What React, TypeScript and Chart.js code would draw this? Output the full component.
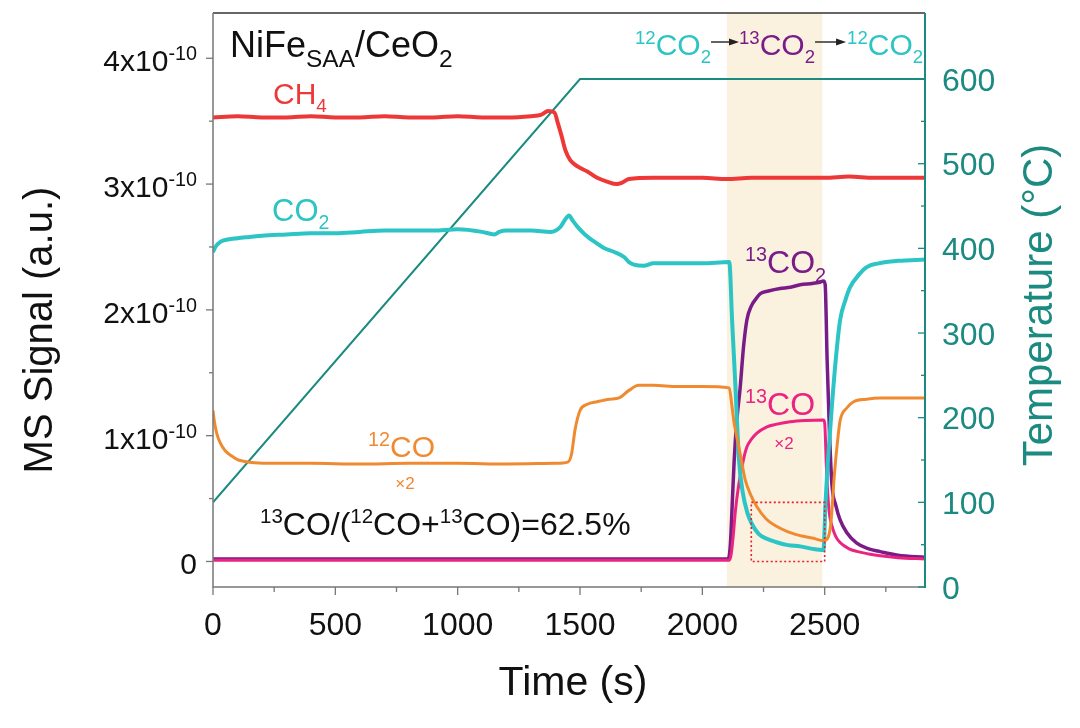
import React, { useEffect, useRef } from "react";
import { Chart, registerables } from "chart.js";

Chart.register(...registerables);

const FONT = '"Liberation Sans", Arial, Helvetica, sans-serif';

// ---- data (signal in units of 1e-10 a.u., time in s) ----
const ch4Time = [0, 100, 200, 300, 400, 500, 600, 700, 800, 900, 1000, 1100, 1200, 1300, 1340, 1370, 1395, 1410, 1425, 1440, 1460, 1490, 1530, 1570, 1610, 1650, 1670, 1700, 1800, 1900, 2000, 2100, 2200, 2300, 2400, 2500, 2600, 2700, 2800, 2910];
const ch4Signal = [3.53, 3.54, 3.53, 3.53, 3.54, 3.53, 3.53, 3.54, 3.53, 3.53, 3.54, 3.53, 3.53, 3.54, 3.55, 3.58, 3.57, 3.48, 3.38, 3.27, 3.19, 3.14, 3.1, 3.05, 3.02, 3.0, 3.01, 3.04, 3.05, 3.05, 3.05, 3.04, 3.05, 3.05, 3.05, 3.05, 3.06, 3.05, 3.05, 3.05];

const co2Time = [0, 10, 30, 60, 100, 150, 200, 300, 400, 500, 600, 700, 800, 900, 1000, 1100, 1150, 1170, 1200, 1300, 1380, 1420, 1440, 1455, 1470, 1490, 1520, 1560, 1600, 1640, 1680, 1700, 1720, 1760, 1800, 1900, 2000, 2110, 2122, 2135, 2150, 2165, 2185, 2202, 2230, 2264, 2300, 2350, 2400, 2450, 2495, 2503, 2515, 2530, 2545, 2563, 2585, 2604, 2640, 2672, 2720, 2800, 2910];
const co2Signal = [2.46, 2.5, 2.54, 2.56, 2.57, 2.58, 2.59, 2.6, 2.61, 2.61, 2.62, 2.63, 2.63, 2.63, 2.64, 2.62, 2.6, 2.62, 2.63, 2.63, 2.62, 2.66, 2.72, 2.75, 2.71, 2.66, 2.6, 2.54, 2.49, 2.46, 2.42, 2.38, 2.36, 2.35, 2.37, 2.37, 2.37, 2.38, 1.9, 1.4, 0.8, 0.55, 0.38, 0.3, 0.22, 0.18, 0.155, 0.13, 0.12, 0.1, 0.09, 0.45, 0.85, 1.25, 1.6, 1.92, 2.08, 2.18, 2.28, 2.34, 2.37, 2.39, 2.4];

const co12Time = [0, 5, 15, 30, 50, 75, 100, 130, 170, 250, 400, 600, 800, 1000, 1200, 1400, 1450, 1465, 1480, 1500, 1530, 1570, 1620, 1660, 1700, 1740, 1800, 1900, 2000, 2110, 2120, 2130, 2145, 2160, 2175, 2200, 2223, 2260, 2318, 2380, 2454, 2495, 2505, 2525, 2540, 2555, 2563, 2590, 2618, 2670, 2727, 2800, 2910];
const co12Signal = [1.2, 1.12, 1.02, 0.94, 0.88, 0.84, 0.81, 0.795, 0.785, 0.78, 0.78, 0.775, 0.78, 0.78, 0.775, 0.78, 0.79, 0.85, 1.05, 1.2, 1.25, 1.27, 1.29, 1.3, 1.36, 1.4, 1.4, 1.39, 1.39, 1.38, 1.25, 1.1, 0.95, 0.8, 0.65, 0.52, 0.435, 0.34, 0.264, 0.215, 0.184, 0.165, 0.17, 0.3, 0.7, 1.0, 1.12, 1.22, 1.27, 1.29, 1.3, 1.3, 1.3];

const co2C13Time = [0, 500, 1000, 1500, 2000, 2100, 2108, 2115, 2122, 2130, 2140, 2155, 2168, 2182, 2200, 2220, 2237, 2270, 2318, 2360, 2400, 2450, 2480, 2495, 2502, 2510, 2520, 2530, 2545, 2563, 2590, 2631, 2680, 2727, 2800, 2910];
const co2C13Signal = [0.02, 0.02, 0.02, 0.02, 0.02, 0.02, 0.03, 0.15, 0.45, 0.8, 1.1, 1.39, 1.7, 1.92, 2.03, 2.09, 2.13, 2.15, 2.17, 2.18, 2.2, 2.21, 2.22, 2.23, 2.2, 1.6, 1.0, 0.6, 0.45, 0.33, 0.23, 0.145, 0.1, 0.078, 0.05, 0.033];

const coC13Time = [0, 500, 1000, 1500, 2000, 2110, 2118, 2126, 2135, 2148, 2168, 2182, 2200, 2223, 2264, 2300, 2359, 2420, 2495, 2500, 2508, 2518, 2530, 2545, 2563, 2600, 2631, 2680, 2727, 2800, 2910];
const coC13Signal = [0.01, 0.01, 0.01, 0.01, 0.01, 0.01, 0.06, 0.2, 0.4, 0.6, 0.81, 0.91, 0.97, 1.02, 1.07, 1.09, 1.11, 1.12, 1.125, 1.1, 0.7, 0.4, 0.28, 0.2, 0.15, 0.1, 0.08, 0.06, 0.045, 0.03, 0.02];

const tempTime = [0, 1500, 2910];
const tempValue = [100, 600, 600];

const xTicks = [0, 500, 1000, 1500, 2000, 2500];
const xMinorTicks = [250, 750, 1250, 1750, 2250, 2750];
const leftTicks = [0, 1, 2, 3, 4];
const leftTickMantissa = ["0", "1x10", "2x10", "3x10", "4x10"];
const leftTickExponent = ["", "-10", "-10", "-10", "-10"];
const leftMinorTicks = [0.5, 1.5, 2.5, 3.5];
const rightTicks = [0, 100, 200, 300, 400, 500, 600];
const rightMinorTicks = [50, 150, 250, 350, 450, 550];

const switchWindow = [2100, 2490];
const zoomBoxTime = [2200, 2500];
const zoomBoxSignal = [0, 0.47];

// ---- colors ----
const RED = "#ee3838";
const CYAN = "#2cc4c4";
const ORANGE = "#f08a30";
const PURPLE = "#7a1c88";
const MAGENTA = "#ea2480";
const TEAL = "#1b8a80";
const SHADE = "#fbf1df";

type Seg = { t: string; k?: "sup" | "sub"; c?: string };

function drawRich(
  ctx: CanvasRenderingContext2D,
  segs: Seg[],
  x: number,
  baseline: number,
  size: number,
  color: string,
  align: "left" | "right" | "center" = "left",
  smallRatio = 0.63
): number {
  const small = size * smallRatio;
  let w = 0;
  for (const s of segs) {
    ctx.font = `${s.k ? small : size}px ${FONT}`;
    w += ctx.measureText(s.t).width;
  }
  let cx = align === "left" ? x : align === "right" ? x - w : x - w / 2;
  ctx.textAlign = "left";
  ctx.textBaseline = "alphabetic";
  for (const s of segs) {
    ctx.font = `${s.k ? small : size}px ${FONT}`;
    ctx.fillStyle = s.c || color;
    const dy = s.k === "sup" ? -size * 0.37 : s.k === "sub" ? size * 0.27 : 0;
    ctx.fillText(s.t, cx, baseline + dy);
    cx += ctx.measureText(s.t).width;
  }
  return w;
}

function arrow(ctx: CanvasRenderingContext2D, x0: number, x1: number, y: number) {
  ctx.save();
  ctx.strokeStyle = "#222";
  ctx.fillStyle = "#222";
  ctx.lineWidth = 1.4;
  ctx.beginPath();
  ctx.moveTo(x0, y);
  ctx.lineTo(x1 - 8, y);
  ctx.stroke();
  ctx.beginPath();
  ctx.moveTo(x1, y);
  ctx.lineTo(x1 - 10, y - 3.5);
  ctx.lineTo(x1 - 10, y + 3.5);
  ctx.closePath();
  ctx.fill();
  ctx.restore();
}

const decorPlugin = {
  id: "decor",
  beforeDatasetsDraw(chart: any) {
    const { ctx, chartArea } = chart;
    const x = chart.scales.x;
    ctx.save();
    ctx.fillStyle = SHADE;
    const a = x.getPixelForValue(switchWindow[0]);
    const b = x.getPixelForValue(switchWindow[1]);
    ctx.fillRect(a, chartArea.top, b - a, chartArea.bottom - chartArea.top);
    ctx.restore();
  },
  afterDatasetsDraw(chart: any) {
    const { ctx, chartArea } = chart;
    const x = chart.scales.x;
    const y = chart.scales.y;
    const y1 = chart.scales.y1;
    ctx.save();

    // dotted zoom box
    ctx.strokeStyle = "#e8202a";
    ctx.lineWidth = 1.6;
    ctx.setLineDash([2, 2.5]);
    const bx0 = x.getPixelForValue(zoomBoxTime[0]);
    const bx1 = x.getPixelForValue(zoomBoxTime[1]);
    const by0 = y.getPixelForValue(zoomBoxSignal[0]);
    const by1 = y.getPixelForValue(zoomBoxSignal[1]);
    ctx.strokeRect(bx0, by1, bx1 - bx0, by0 - by1);
    ctx.setLineDash([]);

    // frame
    const L = chartArea.left, R = chartArea.right, T = chartArea.top, B = chartArea.bottom;
    ctx.lineWidth = 1.5;
    ctx.strokeStyle = "#333";
    ctx.beginPath(); ctx.moveTo(L, T); ctx.lineTo(R, T); ctx.stroke();
    ctx.strokeStyle = "#777";
    ctx.beginPath(); ctx.moveTo(L, T); ctx.lineTo(L, B); ctx.lineTo(R, B); ctx.stroke();
    ctx.strokeStyle = TEAL;
    ctx.lineWidth = 2;
    ctx.beginPath(); ctx.moveTo(R, T); ctx.lineTo(R, B + 1); ctx.stroke();

    // left ticks
    ctx.strokeStyle = "#777";
    ctx.lineWidth = 1.3;
    for (const v of leftTicks) {
      const p = y.getPixelForValue(v);
      ctx.beginPath(); ctx.moveTo(L - 7, p); ctx.lineTo(L, p); ctx.stroke();
    }
    for (const v of leftMinorTicks) {
      const p = y.getPixelForValue(v);
      ctx.beginPath(); ctx.moveTo(L - 4, p); ctx.lineTo(L, p); ctx.stroke();
    }
    // bottom ticks
    for (const v of xTicks) {
      const p = x.getPixelForValue(v);
      ctx.beginPath(); ctx.moveTo(p, B); ctx.lineTo(p, B + 8); ctx.stroke();
    }
    for (const v of xMinorTicks) {
      const p = x.getPixelForValue(v);
      ctx.beginPath(); ctx.moveTo(p, B); ctx.lineTo(p, B + 5); ctx.stroke();
    }
    // right ticks (inward)
    ctx.strokeStyle = TEAL;
    for (const v of rightTicks) {
      const p = y1.getPixelForValue(v);
      ctx.beginPath(); ctx.moveTo(R - 7, p); ctx.lineTo(R, p); ctx.stroke();
    }
    for (const v of rightMinorTicks) {
      const p = y1.getPixelForValue(v);
      ctx.beginPath(); ctx.moveTo(R - 4, p); ctx.lineTo(R, p); ctx.stroke();
    }

    // tick labels
    leftTicks.forEach((v, i) => {
      const p = y.getPixelForValue(v);
      const segs: Seg[] = [{ t: leftTickMantissa[i] }];
      if (leftTickExponent[i]) segs.push({ t: leftTickExponent[i], k: "sup" });
      drawRich(ctx, segs, 197, p + 13, 30, "#111", "right", 0.66);
    });
    ctx.font = `32px ${FONT}`;
    ctx.fillStyle = "#111";
    ctx.textAlign = "center";
    ctx.textBaseline = "alphabetic";
    for (const v of xTicks) {
      ctx.fillText(String(v), x.getPixelForValue(v), 635);
    }
    ctx.fillStyle = TEAL;
    ctx.textAlign = "left";
    for (const v of rightTicks) {
      ctx.fillText(String(v), 942, y1.getPixelForValue(v) + 11.5);
    }

    // axis titles
    ctx.fillStyle = "#111";
    ctx.font = `41px ${FONT}`;
    ctx.textAlign = "center";
    ctx.fillText("Time (s)", 573, 695);
    ctx.save();
    ctx.translate(52, 330);
    ctx.rotate(-Math.PI / 2);
    ctx.font = `40px ${FONT}`;
    ctx.fillText("MS Signal (a.u.)", 0, 0);
    ctx.restore();
    ctx.save();
    ctx.translate(1052, 305);
    ctx.rotate(-Math.PI / 2);
    ctx.font = `42px ${FONT}`;
    ctx.fillStyle = TEAL;
    ctx.fillText("Temperature (\u00B0C)", 0, 0);
    ctx.restore();

    // annotations
    drawRich(ctx, [{ t: "NiFe" }, { t: "SAA", k: "sub" }, { t: "/CeO" }, { t: "2", k: "sub" }], 230, 57, 36, "#111", "left", 0.68);
    drawRich(ctx, [{ t: "CH" }, { t: "4", k: "sub" }], 273, 104, 30, RED);
    drawRich(ctx, [{ t: "CO" }, { t: "2", k: "sub" }], 272, 221, 31, CYAN);
    drawRich(ctx, [{ t: "12", k: "sup" }, { t: "CO" }], 368, 457, 30, ORANGE, "left", 0.66);
    drawRich(ctx, [{ t: "\u00D72" }], 405, 489, 17, ORANGE, "center", 1);
    drawRich(
      ctx,
      [
        { t: "13", k: "sup" }, { t: "CO/(" }, { t: "12", k: "sup" }, { t: "CO+" },
        { t: "13", k: "sup" }, { t: "CO)=62.5%" },
      ],
      260, 535, 32, "#111", "left", 0.64
    );
    drawRich(ctx, [{ t: "13", k: "sup" }, { t: "CO" }, { t: "2", k: "sub" }], 745, 273, 32, PURPLE, "left", 0.62);
    drawRich(ctx, [{ t: "13", k: "sup" }, { t: "CO" }], 745, 415, 32, MAGENTA, "left", 0.62);
    drawRich(ctx, [{ t: "\u00D72" }], 784, 449, 17, MAGENTA, "center", 1);

    // gas switching sequence
    let cx = 635;
    cx += drawRich(ctx, [{ t: "12", k: "sup" }, { t: "CO" }, { t: "2", k: "sub" }], cx, 55, 30, CYAN, "left", 0.62);
    arrow(ctx, cx, cx + 28, 42);
    cx += 28;
    cx += drawRich(ctx, [{ t: "13", k: "sup" }, { t: "CO" }, { t: "2", k: "sub" }], cx, 55, 30, PURPLE, "left", 0.62);
    arrow(ctx, cx, cx + 31, 42);
    cx += 32;
    drawRich(ctx, [{ t: "12", k: "sup" }, { t: "CO" }, { t: "2", k: "sub" }], cx, 55, 30, CYAN, "left", 0.62);

    ctx.restore();
  },
};

function series(t: number[], v: number[]) {
  return t.map((tt, i) => ({ x: tt, y: v[i] }));
}

export default function App() {
  const ref = useRef<HTMLCanvasElement | null>(null);
  useEffect(() => {
    document.body.style.margin = "0";
    const canvas = ref.current;
    if (!canvas) return;
    const common = { pointRadius: 0, fill: false, cubicInterpolationMode: "monotone" as const };
    const chart = new Chart(canvas, {
      type: "line",
      data: {
        datasets: [
          { ...common, data: series(co12Time, co12Signal), borderColor: ORANGE, borderWidth: 3, yAxisID: "y" },
          { ...common, data: series(co2Time, co2Signal), borderColor: CYAN, borderWidth: 4, yAxisID: "y" },
          { ...common, data: series(ch4Time, ch4Signal), borderColor: RED, borderWidth: 4, yAxisID: "y" },
          { ...common, data: series(coC13Time, coC13Signal), borderColor: MAGENTA, borderWidth: 3, yAxisID: "y" },
          { ...common, data: series(co2C13Time, co2C13Signal), borderColor: PURPLE, borderWidth: 3.5, yAxisID: "y" },
          { ...common, data: series(tempTime, tempValue), borderColor: TEAL, borderWidth: 2, yAxisID: "y1", cubicInterpolationMode: "default", tension: 0 },
        ],
      },
      options: {
        animation: false,
        responsive: false,
        devicePixelRatio: 1,
        parsing: false as any,
        layout: { padding: { left: 213, right: 155, top: 13, bottom: 141 } },
        plugins: { legend: { display: false }, tooltip: { enabled: false } },
        scales: {
          x: { type: "linear", min: 0, max: 2910, display: false },
          y: { type: "linear", min: -0.203, max: 4.36, display: false },
          y1: { type: "linear", position: "right", min: 0, max: 678, display: false },
        },
      },
      plugins: [decorPlugin],
    });
    return () => chart.destroy();
  }, []);
  return (
    <div style={{ width: 1080, height: 728, background: "#fff" }}>
      <canvas ref={ref} width={1080} height={728} style={{ display: "block" }} />
    </div>
  );
}
